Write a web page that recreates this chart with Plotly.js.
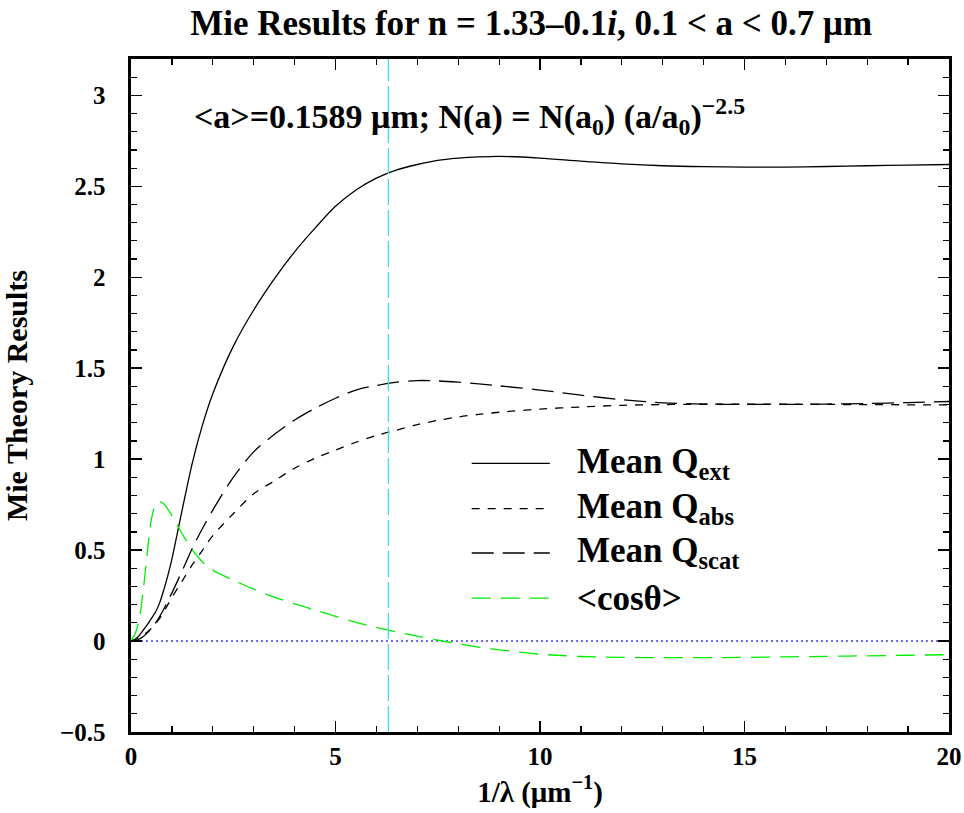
<!DOCTYPE html>
<html>
<head>
<meta charset="utf-8">
<script src="https://cdn.plot.ly/plotly-3.0.1.min.js"></script>
<style>
  html, body { margin: 0; padding: 0; background: #ffffff; }
  #chart { width: 964px; height: 813px; }
</style>
</head>
<body>
<div id="chart"></div>
<script>
// Inverse wavelength grid, 1/lambda in um^-1
const waveNumber = [0, 0.1, 0.2, 0.3, 0.4, 0.5, 0.6, 0.7, 0.8, 0.9, 1.0, 1.25, 1.5, 1.75, 2, 2.5, 3, 3.5, 4, 4.5,
                    5, 5.5, 6, 6.5, 7, 7.5, 8, 8.5, 9, 10, 11, 12, 13, 14, 15, 16, 17, 18, 19, 20];

// Size-averaged extinction efficiency
const meanQext = [0, 0.01, 0.03, 0.06, 0.09, 0.125, 0.16, 0.21, 0.28, 0.36, 0.45, 0.72, 0.98, 1.19, 1.36, 1.62, 1.82, 1.99, 2.14, 2.27,
                  2.39, 2.48, 2.545, 2.59, 2.62, 2.643, 2.655, 2.662, 2.665, 2.655, 2.638, 2.623, 2.613, 2.608, 2.606, 2.606, 2.609, 2.613, 2.617, 2.62];

// Size-averaged absorption efficiency
const meanQabs = [0, 0.008, 0.02, 0.035, 0.05, 0.07, 0.095, 0.125, 0.16, 0.2, 0.24, 0.33, 0.42, 0.50, 0.58, 0.70, 0.81, 0.88, 0.95, 1.005,
                  1.05, 1.093, 1.13, 1.16, 1.19, 1.213, 1.232, 1.246, 1.258, 1.275, 1.287, 1.296, 1.30, 1.302, 1.302, 1.302, 1.301, 1.30, 1.299, 1.298];

// Size-averaged scattering efficiency
const meanQscat = [0, 0.002, 0.01, 0.025, 0.045, 0.07, 0.1, 0.135, 0.175, 0.22, 0.265, 0.385, 0.51, 0.62, 0.72, 0.90, 1.04, 1.135, 1.215, 1.28,
                   1.335, 1.38, 1.405, 1.423, 1.432, 1.43, 1.423, 1.414, 1.403, 1.38, 1.352, 1.327, 1.31, 1.303, 1.301, 1.301, 1.303, 1.306, 1.311, 1.317];

// Asymmetry parameter <cos theta>
const meanCos = [0, 0.04, 0.12, 0.28, 0.49, 0.67, 0.75, 0.765, 0.755, 0.725, 0.69, 0.59, 0.50, 0.435, 0.39, 0.335, 0.285, 0.242, 0.205, 0.17,
                 0.136, 0.103, 0.075, 0.05, 0.027, 0.005, -0.015, -0.033, -0.048, -0.072, -0.085, -0.09, -0.091, -0.091, -0.09, -0.087, -0.084, -0.081, -0.078, -0.075];

// Mean particle radius (um); its inverse marks the reference wavenumber
const meanRadius = 0.1589;

const xTickVals = [0, 5, 10, 15, 20];
const xTickText = ['0', '5', '10', '15', '20'];
const yTickVals = [-0.5, 0, 0.5, 1, 1.5, 2, 2.5, 3];
const yTickText = ['\u22120.5', '0', '0.5', '1', '1.5', '2', '2.5', '3'];

const legendLabels = ['Mean Q<sub>ext</sub>', 'Mean Q<sub>abs</sub>', 'Mean Q<sub>scat</sub>', '&lt;cos\u03b8&gt;'];

const serif = 'Liberation Serif';
const bold = s => '<b>' + s + '</b>';

const styles = [
  { color: '#000000', dash: 'solid' },
  { color: '#000000', dash: '8px,8px' },
  { color: '#000000', dash: '22px,9px' },
  { color: '#00ee00', dash: '19px,10px' }
];
const series = [meanQext, meanQabs, meanQscat, meanCos];

const traces = series.map((ys, i) => ({
  x: waveNumber,
  y: ys,
  type: 'scatter',
  mode: 'lines',
  line: { color: styles[i].color, width: 1.3, dash: styles[i].dash, shape: 'spline', smoothing: 0.9 },
  showlegend: false,
  hoverinfo: 'skip'
}));

// zero reference line
traces.unshift({
  x: [0, 20], y: [0, 0], type: 'scatter', mode: 'lines',
  line: { color: '#3b3bff', width: 1.6, dash: '2px,3px' },
  showlegend: false, hoverinfo: 'skip'
});

const refX = 1 / meanRadius;

// hand-drawn key: line samples + labels
const keyRows = [0.399, 0.332, 0.266, 0.199];
const shapes = [{
  type: 'line', xref: 'x', yref: 'paper', x0: refX, x1: refX, y0: 0, y1: 1,
  line: { color: '#3fdfe8', width: 1.3, dash: '26px,5px' }
}];
const annotations = [];
keyRows.forEach((yy, i) => {
  shapes.push({
    type: 'line', xref: 'paper', yref: 'paper', x0: 0.4165, x1: 0.512, y0: yy, y1: yy,
    line: { color: styles[i].color, width: 1.3, dash: styles[i].dash }
  });
  annotations.push({
    xref: 'paper', yref: 'paper', x: 0.5425, y: yy, xanchor: 'left', yanchor: 'middle',
    text: bold(legendLabels[i]), showarrow: false,
    font: { family: serif, size: 35, color: '#000' }
  });
});

annotations.push({
  xref: 'paper', yref: 'paper', x: 0.075, y: 0.915, xanchor: 'left', yanchor: 'middle',
  text: bold('&lt;a&gt;=' + meanRadius.toFixed(4) + ' \u03bcm; N(a) = N(a<sub>0</sub>) (a/a<sub>0</sub>)<sup>\u22122.5</sup>'),
  showarrow: false,
  font: { family: serif, size: 34, color: '#000' }
});

const axisCommon = {
  showline: true, linecolor: '#000', linewidth: 2.6, mirror: 'ticks',
  ticks: 'inside', ticklen: 11, tickwidth: 1.5, tickcolor: '#000',
  showgrid: false, zeroline: false,
  tickfont: { family: serif, size: 25, color: '#000' }
};

const layout = {
  width: 964, height: 813,
  margin: { l: 131, r: 15, t: 59, b: 81 },
  paper_bgcolor: '#ffffff', plot_bgcolor: '#ffffff',
  title: {
    text: bold('Mie Results for n = 1.33\u20130.1<i>i</i>, 0.1 &lt; a &lt; 0.7 \u03bcm'),
    font: { family: serif, size: 35, color: '#000' },
    x: 0.551, xanchor: 'center', y: 0.972, yanchor: 'middle'
  },
  xaxis: Object.assign({}, axisCommon, {
    range: [0, 20], tickvals: xTickVals, ticktext: xTickText.map(bold),
    minor: { dtick: 1, ticks: 'inside', ticklen: 6, tickwidth: 1.2, tickcolor: '#000' },
    title: { text: bold('1/\u03bb (\u03bcm<sup>\u22121</sup>)'), standoff: 13,
             font: { family: serif, size: 29, color: '#000' } }
  }),
  yaxis: Object.assign({}, axisCommon, {
    range: [-0.5, 3.2], tickvals: yTickVals, ticktext: yTickText.map(bold),
    ticklabelstandoff: 18,
    minor: { dtick: 0.1, tick0: 0, ticks: 'inside', ticklen: 6, tickwidth: 1.2, tickcolor: '#000' },
    title: { text: bold('Mie Theory Results'), standoff: 25,
             font: { family: serif, size: 30, color: '#000' } }
  }),
  shapes: shapes,
  annotations: annotations
};

Plotly.newPlot('chart', traces, layout, { displayModeBar: false, staticPlot: true });
</script>
</body>
</html>
